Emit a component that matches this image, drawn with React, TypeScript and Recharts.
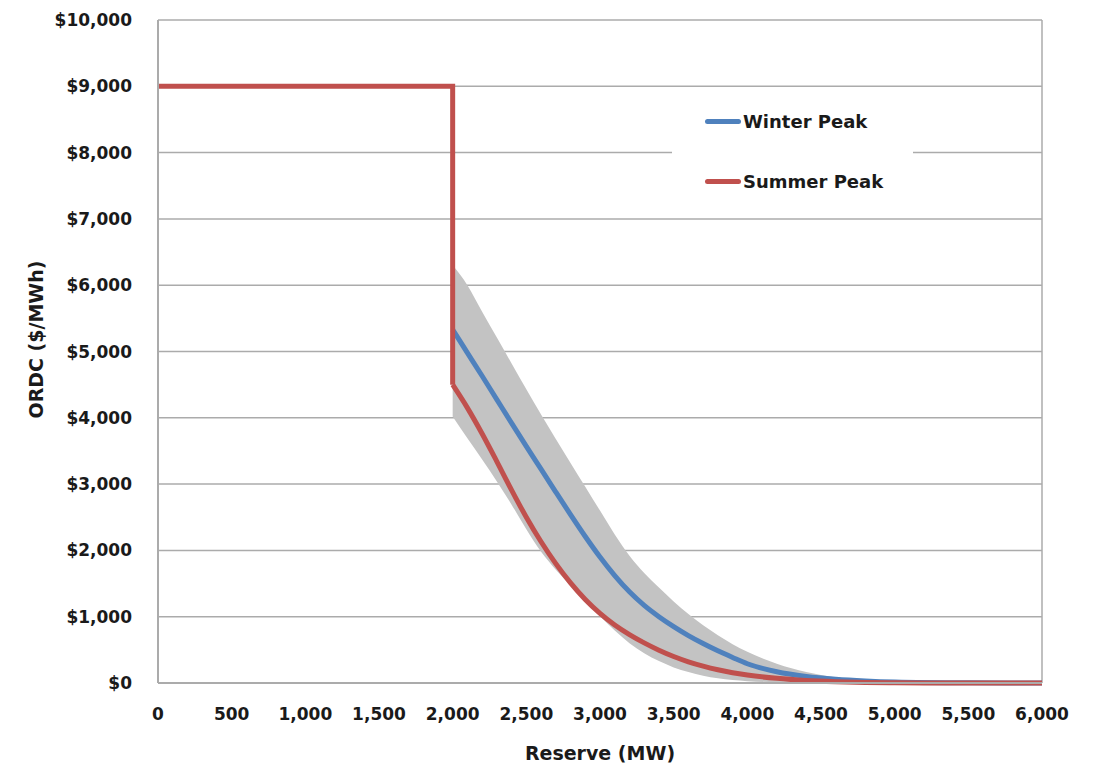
import { ComposedChart, Line, Area, XAxis, YAxis, CartesianGrid, ReferenceLine, Legend, Label } from "recharts"

// reserve levels (MW) where the sloped part of the curves is read
const reserveMW = [2000, 2100, 2200, 2300, 2400, 2500, 2600, 2700, 2800, 2900, 3000, 3100, 3200, 3300, 3400, 3500, 3600, 3700, 3800, 3900, 4000, 4200, 4400, 4600, 4800, 5000, 5500, 6000]
const winterPeak = [5330, 4980, 4630, 4275, 3920, 3570, 3225, 2880, 2540, 2210, 1900, 1620, 1375, 1170, 1000, 850, 715, 595, 485, 385, 290, 170, 100, 58, 32, 16, 3, 0]
const summerPeak = [4500, 4150, 3760, 3340, 2910, 2500, 2130, 1800, 1510, 1260, 1050, 875, 730, 605, 495, 400, 320, 255, 200, 155, 120, 70, 38, 20, 9, 3, 0, 0]
const bandLow = [4020, 3690, 3370, 3040, 2690, 2320, 1980, 1710, 1470, 1240, 1010, 790, 600, 450, 330, 235, 165, 110, 70, 45, 28, 10, 0, 0, 0, 0, 0, 0]
const bandHigh = [6300, 6000, 5600, 5210, 4820, 4430, 4050, 3680, 3320, 2960, 2600, 2240, 1920, 1660, 1440, 1230, 1040, 870, 720, 585, 470, 290, 165, 85, 38, 15, 0, 0]

// price cap segment of the summer curve
const capMW = [0, 2000, 2000]
const capPrice = [9000, 9000, 4500]

const xTicks = [0, 500, 1000, 1500, 2000, 2500, 3000, 3500, 4000, 4500, 5000, 5500, 6000]
const yTicks = [0, 1000, 2000, 3000, 4000, 5000, 6000, 7000, 8000, 9000, 10000]

const legendNames = ["Winter Peak", "Summer Peak"]

const BLUE = "#4F81BD"
const RED = "#C0504D"
const GRID = "#ABABAB"
const TEXT = "#1a1a1a"

const winterData = reserveMW.map((mw, i) => ({ mw, price: winterPeak[i] }))
const summerData = reserveMW.map((mw, i) => ({ mw, price: summerPeak[i] }))
const capData = capMW.map((mw, i) => ({ mw, price: capPrice[i] }))
const bandData = reserveMW.map((mw, i) => ({ mw, band: [bandLow[i], bandHigh[i]] }))

const legendColors = [BLUE, RED]

function ChartLegend() {
    return (
        <div style={{ position: "relative", width: "100%", height: "100%", background: "#fff" }}>
            {legendNames.map((name, i) => (
                <div
                    key={name}
                    style={{ position: "absolute", left: 33, top: 8 + i * 60, height: 26, display: "flex", alignItems: "center" }}
                >
                    <span style={{ width: 36, height: 5, borderRadius: 3, background: legendColors[i], marginRight: 2 }} />
                    <span style={{ fontSize: 18, fontWeight: 700, color: TEXT, whiteSpace: "nowrap" }}>{name}</span>
                </div>
            ))}
        </div>
    )
}

function YTitle(props: any) {
    const vb = props.viewBox
    const cx = 36
    const cy = vb.y + vb.height / 2 - 12
    return (
        <text
            x={cx}
            y={cy}
            transform={`rotate(-90, ${cx}, ${cy})`}
            textAnchor="middle"
            dominantBaseline="central"
            fill={TEXT}
            fontSize={19}
            fontWeight={700}
        >
            ORDC ($/MWh)
        </text>
    )
}

function XTitle(props: any) {
    const vb = props.viewBox
    return (
        <text x={vb.x + vb.width / 2} y={760} textAnchor="middle" fill={TEXT} fontSize={19} fontWeight={700}>
            Reserve (MW)
        </text>
    )
}

export default function App() {
    return (
        <div style={{ position: "absolute", left: 0, top: 0, width: 1097, height: 766, background: "#fff", fontFamily: "'DejaVu Sans', sans-serif" }}>
            <ComposedChart width={1097} height={766} margin={{ top: 20, right: 55, bottom: 0, left: 0 }}>
                <CartesianGrid vertical={false} stroke={GRID} strokeWidth={1.5} />
                <XAxis
                    type="number"
                    dataKey="mw"
                    domain={[0, 6000]}
                    ticks={xTicks}
                    interval={0}
                    height={83}
                    tickSize={0}
                    tickMargin={25}
                    axisLine={{ stroke: GRID, strokeWidth: 2 }}
                    tickLine={false}
                    tick={{ fill: TEXT, fontSize: 17, fontWeight: 700 }}
                    tickFormatter={(v) => v.toLocaleString("en-US")}
                >
                    <Label content={XTitle} />
                </XAxis>
                <YAxis
                    type="number"
                    domain={[0, 10000]}
                    ticks={yTicks}
                    interval={0}
                    width={158}
                    tickSize={0}
                    tickMargin={26}
                    axisLine={{ stroke: GRID, strokeWidth: 2 }}
                    tickLine={false}
                    tick={{ fill: TEXT, fontSize: 17, fontWeight: 700 }}
                    tickFormatter={(v) => `$${v.toLocaleString("en-US")}`}
                >
                    <Label content={YTitle} />
                </YAxis>
                <ReferenceLine x={6000} stroke={GRID} strokeWidth={1.5} />
                <Area
                    data={bandData}
                    dataKey="band"
                    type="monotone"
                    fill="#C3C3C3"
                    fillOpacity={1}
                    stroke="none"
                    isAnimationActive={false}
                    activeDot={false}
                />
                <Line
                    data={winterData}
                    dataKey="price"
                    name="Winter Peak"
                    type="monotone"
                    stroke={BLUE}
                    strokeWidth={5}
                    dot={false}
                    activeDot={false}
                    isAnimationActive={false}
                />
                <Line
                    data={capData}
                    dataKey="price"
                    name="Summer Peak cap"
                    type="linear"
                    stroke={RED}
                    strokeWidth={5}
                    strokeLinejoin="miter"
                    dot={false}
                    activeDot={false}
                    isAnimationActive={false}
                />
                <Line
                    data={summerData}
                    dataKey="price"
                    name="Summer Peak"
                    type="monotone"
                    stroke={RED}
                    strokeWidth={5}
                    dot={false}
                    activeDot={false}
                    isAnimationActive={false}
                />
                <Legend
                    layout="horizontal"
                    verticalAlign="middle"
                    align="center"
                    wrapperStyle={{ left: 672, top: 100, width: 241, height: 105 }}
                    content={() => <ChartLegend />}
                />
            </ComposedChart>
        </div>
    )
}
